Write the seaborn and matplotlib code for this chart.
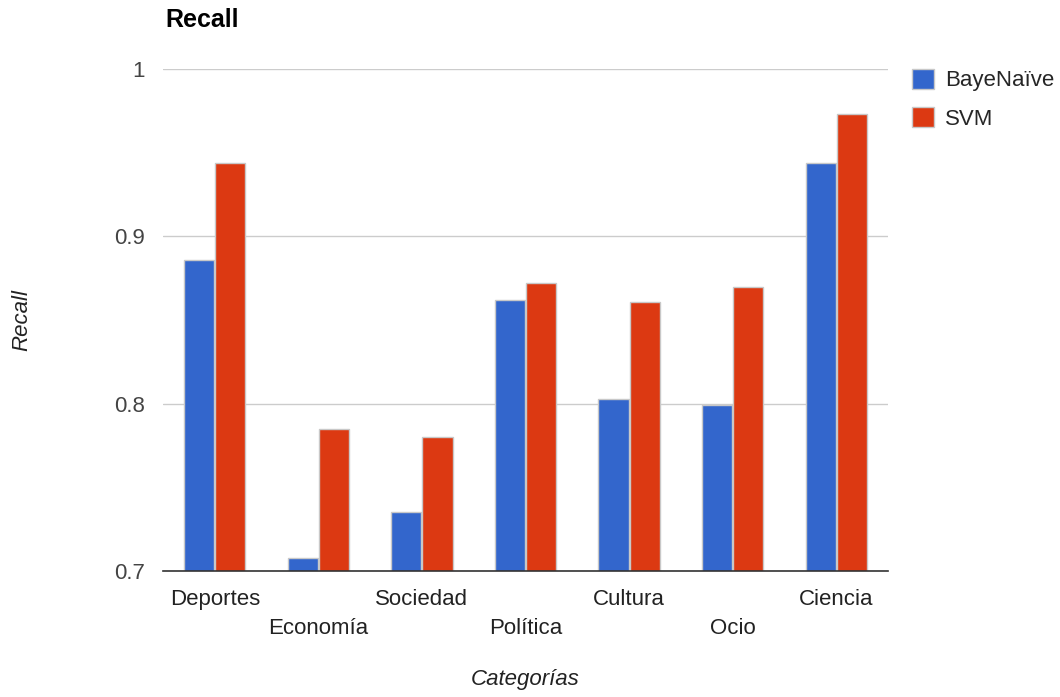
import matplotlib
matplotlib.use('Agg')
import matplotlib.pyplot as plt
import seaborn as sns
import pandas as pd

categories = ["Deportes", "Economía", "Sociedad", "Política", "Cultura", "Ocio", "Ciencia"]
bayes_naive = [0.886, 0.708, 0.735, 0.862, 0.803, 0.799, 0.944]
svm = [0.944, 0.785, 0.780, 0.872, 0.861, 0.870, 0.973]
series = ["BayeNaïve", "SVM"]
colors = ["#3366CC", "#DC3912"]

df = pd.DataFrame({
    "Categoría": categories * 2,
    "Recall": bayes_naive + svm,
    "Modelo": [series[0]] * len(categories) + [series[1]] * len(categories),
})

sns.set_style("white")
plt.rcParams['font.family'] = ['Liberation Sans', 'DejaVu Sans']

fig = plt.figure(figsize=(10.6, 6.97), dpi=100)
ax = fig.add_axes([0.1538, 0.1808, 0.8377 - 0.1538, 0.901 - 0.1808])

sns.barplot(data=df, x="Categoría", y="Recall", hue="Modelo", palette=colors,
            width=0.6, gap=0.03, edgecolor="#c8c8c8", linewidth=1.0, ax=ax, saturation=1)

ax.set_ylim(0.7, 1.0)
ax.set_yticks([0.7, 0.8, 0.9, 1.0])
ax.set_yticklabels(["0.7", "0.8", "0.9", "1"], fontsize=16, color="#444444")
ax.yaxis.grid(True, color="#cccccc", linewidth=1)
ax.set_axisbelow(True)
ax.tick_params(axis='y', length=0, pad=13)
ax.tick_params(axis='x', length=0, pad=13)

# staggered category labels
labels = [c if i % 2 == 0 else "\n" + c for i, c in enumerate(categories)]
ax.set_xticks(range(len(categories)))
ax.set_xticklabels(labels, fontsize=16, color="#222222", linespacing=1.5)

for s in ["top", "right", "left"]:
    ax.spines[s].set_visible(False)
ax.spines["bottom"].set_color("#333333")
ax.spines["bottom"].set_linewidth(1.2)

ax.set_xlabel("Categorías", fontsize=16, style="italic", color="#222222")
ax.xaxis.set_label_coords(0.5, -(680 - 571) / 502, transform=ax.transAxes)
ax.set_ylabel("Recall", fontsize=16, style="italic", color="#222222")
ax.yaxis.set_label_coords(-(163 - 22) / 725, 0.5, transform=ax.transAxes)
ax.xaxis.label.set_va("center")
ax.yaxis.label.set_va("center")

fig.text(165 / 1060, 1 - 20 / 697, "Recall", fontsize=18, fontweight="bold",
         ha="left", va="center", color="#000000")

ax.legend(loc="upper left", bbox_to_anchor=(1.005, 1.04), frameon=False,
          fontsize=16, handlelength=1.0, handleheight=1.0, labelspacing=0.7,
          handletextpad=0.5)

fig.savefig("out.png", dpi=100)
